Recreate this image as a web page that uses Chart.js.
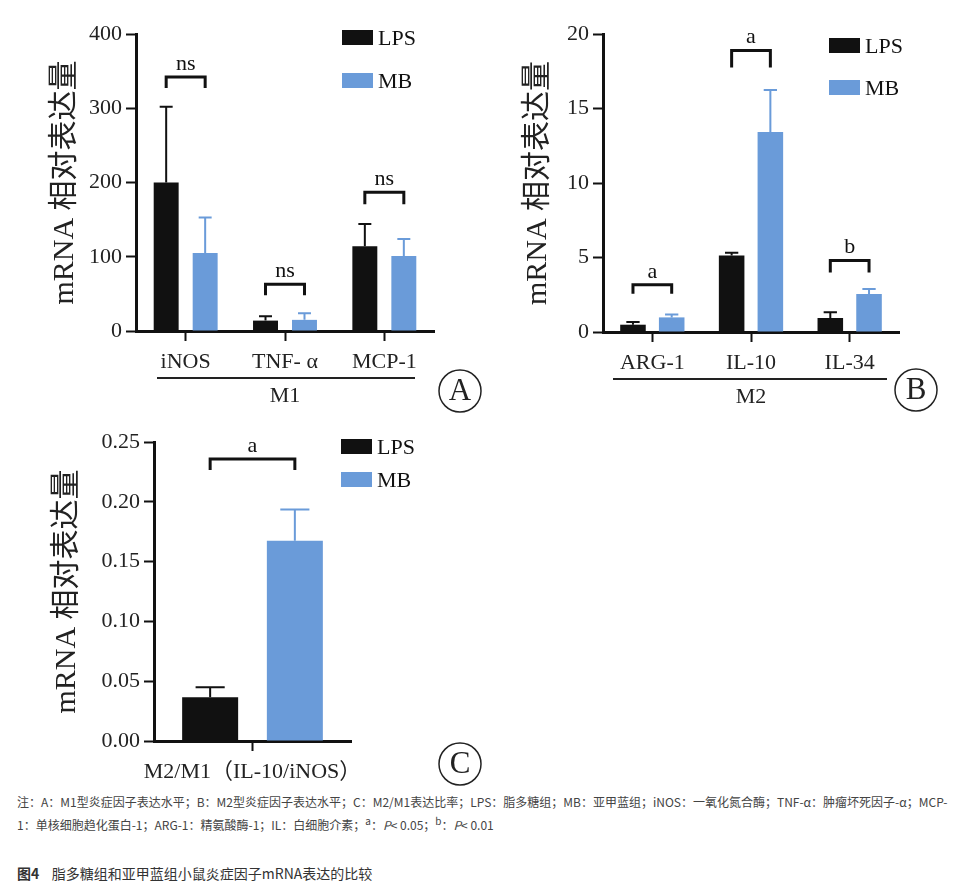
<!DOCTYPE html>
<html>
<head>
<meta charset="utf-8">
<script src="https://cdn.jsdelivr.net/npm/chart.js@4.4.1/dist/chart.umd.min.js"></script>
<style>
  body { margin: 0; background: #fff; }
  #fig { position: relative; width: 956px; height: 893px; background: #fff; overflow: hidden; }
  canvas { position: absolute; }
  .note { position: absolute; left: 17px; font-family: "Noto Sans CJK SC", "Noto Sans", sans-serif; font-size: 12px; color: #444; line-height: 16px; white-space: nowrap; }
  .note sup { font-size: 10px; vertical-align: 5px; line-height: 0; }
  .title { position: absolute; left: 17px; top: 864px; font-family: "Noto Sans CJK SC", sans-serif; font-size: 14px; color: #333; line-height: 18px; white-space: nowrap; }
</style>
</head>
<body>
<div id="fig">
  <canvas id="chartA" width="492" height="420" style="left:0;top:0"></canvas>
  <canvas id="chartB" width="476" height="420" style="left:480px;top:0"></canvas>
  <canvas id="chartC" width="492" height="373" style="left:0;top:420px"></canvas>
  <div class="note" style="top:794px">注：A：M1型炎症因子表达水平；B：M2型炎症因子表达水平；C：M2/M1表达比率；LPS：脂多糖组；MB：亚甲蓝组；iNOS：一氧化氮合酶；TNF-α：肿瘤坏死因子-α；MCP-</div>
  <div class="note" style="top:817px">1：单核细胞趋化蛋白-1；ARG-1：精氨酸酶-1；IL：白细胞介素；<sup>a</sup>：<i>P</i>&lt; 0.05；<sup>b</sup>：<i>P</i>&lt; 0.01</div>
  <div class="title"><b>图4</b>&nbsp;&nbsp;&nbsp;&nbsp;脂多糖组和亚甲蓝组小鼠炎症因子mRNA表达的比较</div>
</div>
<script>
// panel A - M1
var aLabels = ["iNOS", "TNF- α", "MCP-1"];
var aLps = [200, 14, 114];
var aLpsErr = [102, 6, 30];
var aMb = [105, 15, 101];
var aMbErr = [48, 9, 23];
var aSig = ["ns", "ns", "ns"];
var aSigAt = [342, 63, 187];
var aTicks = [0, 100, 200, 300, 400];

// panel B - M2
var bLabels = ["ARG-1", "IL-10", "IL-34"];
var bLps = [0.49, 5.14, 0.94];
var bLpsErr = [0.18, 0.18, 0.38];
var bMb = [0.98, 13.42, 2.55];
var bMbErr = [0.2, 2.82, 0.34];
var bSig = ["a", "a", "b"];
var bSigAt = [3.17, 18.9, 4.8];
var bTicks = [0, 5, 10, 15, 20];

// panel C - ratio
var cLabels = ["M2/M1（IL-10/iNOS）"];
var cLps = [0.0366];
var cLpsErr = [0.0084];
var cMb = [0.1674];
var cMbErr = [0.0262];
var cSig = ["a"];
var cSigAt = [0.2358];
var cTicks = [0, 0.05, 0.10, 0.15, 0.20, 0.25];

var black = "#111111";
var blue = "#6a9bd9";
var serif = "'Liberation Serif', 'Noto Sans CJK SC', serif";

function makePanel(id, p) {
  var decor = {
    id: "decor_" + id,
    afterDatasetsDraw: function (chart) {
      var ctx = chart.ctx, y = chart.scales.y;
      ctx.save();
      // error bars, upward only
      chart.data.datasets.forEach(function (ds, di) {
        chart.getDatasetMeta(di).data.forEach(function (bar, i) {
          var top = y.getPixelForValue(ds.data[i] + ds.err[i]);
          var base = y.getPixelForValue(ds.data[i]);
          var cap = bar.width * 0.52;
          ctx.strokeStyle = ds.backgroundColor;
          ctx.lineWidth = 2;
          ctx.beginPath();
          ctx.moveTo(bar.x, base);
          ctx.lineTo(bar.x, top);
          ctx.moveTo(bar.x - cap / 2, top);
          ctx.lineTo(bar.x + cap / 2, top);
          ctx.stroke();
        });
      });
      // significance brackets
      var m0 = chart.getDatasetMeta(0).data, m1 = chart.getDatasetMeta(1).data;
      ctx.strokeStyle = "#111";
      ctx.fillStyle = "#111";
      ctx.lineWidth = 3;
      ctx.font = "22px " + serif;
      ctx.textAlign = "center";
      ctx.textBaseline = "alphabetic";
      p.sig.forEach(function (s, i) {
        var by = y.getPixelForValue(p.sigAt[i]);
        var leg = p.legs[i];
        ctx.beginPath();
        ctx.moveTo(m0[i].x, by + leg);
        ctx.lineTo(m0[i].x, by);
        ctx.lineTo(m1[i].x, by);
        ctx.lineTo(m1[i].x, by + leg);
        ctx.stroke();
        ctx.fillText(s, (m0[i].x + m1[i].x) / 2, by - 7);
      });
      ctx.restore();
    },
    afterDraw: function (chart) {
      var ctx = chart.ctx;
      ctx.save();
      // legend
      ctx.font = "22px " + serif;
      ctx.textAlign = "left";
      ctx.textBaseline = "middle";
      ctx.fillStyle = black;
      ctx.fillRect(p.leg.x, p.leg.y1, 31, 15);
      ctx.fillText("LPS", p.leg.x + 36, p.leg.y1 + 9);
      ctx.fillStyle = blue;
      ctx.fillRect(p.leg.x, p.leg.y2, 31, 15);
      ctx.fillStyle = black;
      ctx.fillText("MB", p.leg.x + 36, p.leg.y2 + 9);
      // group line under categories
      if (p.group) {
        ctx.strokeStyle = "#222";
        ctx.lineWidth = 2;
        ctx.beginPath();
        ctx.moveTo(p.group.x1, p.group.y);
        ctx.lineTo(p.group.x2, p.group.y);
        ctx.stroke();
        ctx.textAlign = "center";
        ctx.fillStyle = "#222";
        ctx.fillText(p.group.text, (chart.chartArea.left + chart.chartArea.right) / 2, p.group.y + 18);
      }
      // circled panel letter
      ctx.strokeStyle = "#222";
      ctx.lineWidth = 1.5;
      ctx.beginPath();
      ctx.arc(p.mark.x, p.mark.y, 21, 0, Math.PI * 2);
      ctx.stroke();
      ctx.font = "31px " + serif;
      ctx.textAlign = "center";
      ctx.textBaseline = "middle";
      ctx.fillStyle = "#222";
      ctx.fillText(p.mark.text, p.mark.x, p.mark.y + 1);
      ctx.restore();
    }
  };

  return new Chart(document.getElementById(id), {
    type: "bar",
    data: {
      labels: p.labels,
      datasets: [
        { label: "LPS", data: p.lps, err: p.lpsErr, backgroundColor: black },
        { label: "MB", data: p.mb, err: p.mbErr, backgroundColor: blue }
      ]
    },
    options: {
      responsive: false,
      animation: false,
      devicePixelRatio: 1,
      categoryPercentage: p.catPct,
      barPercentage: p.barPct,
      layout: { autoPadding: false, padding: p.pad },
      plugins: { legend: { display: false }, tooltip: { enabled: false } },
      scales: {
        x: {
          afterFit: function (s) { s.height = p.xh; },
          grid: { display: true, offset: false, drawOnChartArea: false, tickLength: 10, tickWidth: 2, tickColor: "#111" },
          border: { display: true, color: "#111", width: 3 },
          ticks: { color: "#222", padding: 8, font: { family: serif, size: 22 } }
        },
        y: {
          min: 0,
          max: p.ticks[p.ticks.length - 1],
          afterFit: function (s) { s.width = p.yw; },
          afterBuildTicks: function (s) { s.ticks = p.ticks.map(function (v) { return { value: v }; }); },
          grid: { display: true, drawOnChartArea: false, tickLength: 10, tickWidth: 2, tickColor: "#111" },
          border: { display: true, color: "#111", width: 3 },
          ticks: {
            color: "#222",
            padding: 4,
            font: { family: serif, size: 22 },
            callback: function (v) { return p.fmt ? v.toFixed(2) : v; }
          },
          title: {
            display: true,
            text: "mRNA 相对表达量",
            color: "#222",
            font: { family: serif, size: 30 },
            padding: { top: p.titlePad, bottom: 0 }
          }
        }
      }
    },
    plugins: [decor]
  });
}

makePanel("chartA", {
  labels: aLabels, lps: aLps, lpsErr: aLpsErr, mb: aMb, mbErr: aMbErr,
  sig: aSig, sigAt: aSigAt, legs: [11, 11, 12], ticks: aTicks,
  pad: { left: 0, top: 34, right: 58, bottom: 0 }, yw: 136, xh: 89, titlePad: 47,
  catPct: 0.785, barPct: 0.64,
  leg: { x: 342, y1: 30, y2: 73 },
  group: { x1: 157, x2: 415, y: 378, text: "M1" },
  mark: { x: 460, y: 391, text: "A" }
});

makePanel("chartB", {
  labels: bLabels, lps: bLps, lpsErr: bLpsErr, mb: bMb, mbErr: bMbErr,
  sig: bSig, sigAt: bSigAt, legs: [9, 17, 12], ticks: bTicks,
  pad: { left: 0, top: 34, right: 57, bottom: 0 }, yw: 123, xh: 88, titlePad: 40,
  catPct: 0.785, barPct: 0.66,
  leg: { x: 349, y1: 38, y2: 80 },
  group: { x1: 133, x2: 407, y: 379, text: "M2" },
  mark: { x: 436, y: 390, text: "B" }
});

makePanel("chartC", {
  labels: cLabels, lps: cLps, lpsErr: cLpsErr, mb: cMb, mbErr: cMbErr,
  sig: cSig, sigAt: cSigAt, legs: [11], ticks: cTicks, fmt: true,
  pad: { left: 0, top: 22, right: 141, bottom: 3 }, yw: 154, xh: 49, titlePad: 49,
  catPct: 0.86, barPct: 0.661,
  leg: { x: 341, y1: 19, y2: 52 },
  group: null,
  mark: { x: 460, y: 344, text: "C" }
});
</script>
</body>
</html>
